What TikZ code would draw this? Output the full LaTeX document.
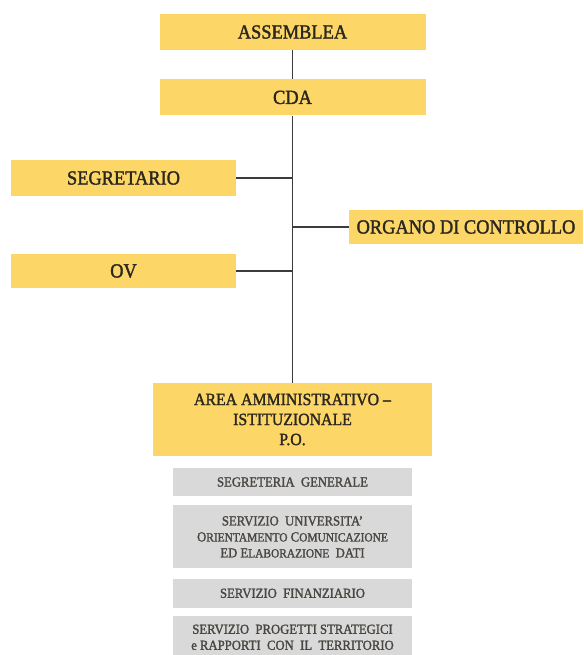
\documentclass[tikz,border=0pt]{standalone}
\usepackage{fontspec}
\setmainfont{Liberation Serif}[FakeStretch=0.92, FakeBold=1.6]
\usepackage{tikz}
\usetikzlibrary{positioning}
\definecolor{orgyellow}{HTML}{FCD667}
\definecolor{orggrey}{HTML}{D9D9D9}
\definecolor{orgtext}{HTML}{2A2620}
\definecolor{orgline}{HTML}{3C3C3C}
\tikzset{yellowbox/.style={fill=orgyellow, text=orgtext, inner sep=0pt, align=center, font=\fontsize{20}{24}\selectfont},
         greybox/.style={fill=orggrey, text=orgtext!85, inner sep=0pt, minimum width=239pt, align=center, font=\fontsize{13.8}{16}\selectfont},
         orgline/.style={draw=orgline, line width=1.1pt},}
\newcommand{\smc}[1]{{\fontsize{12.4}{16}\selectfont #1}}

\begin{document}
\begin{tikzpicture}[x=1pt, y=-1pt]
\useasboundingbox[fill=white] (0,0) rectangle (583,655);
\node [yellowbox, minimum width=266pt, minimum height=36pt] (assemblea) at (292.5,32) {ASSEMBLEA};
\node [yellowbox, minimum width=266pt, minimum height=36pt] (cda) [below=29pt of assemblea] {CDA};
\node [yellowbox, minimum width=225pt, minimum height=36pt] (segretario) at (123.5,178) {SEGRETARIO};
\node [yellowbox, minimum width=234pt, minimum height=34pt] (organo) at (466,227) {ORGANO DI CONTROLLO};
\node [yellowbox, minimum width=225pt, minimum height=34pt] (ov) at (123.5,271) {OV};
\node [yellowbox, minimum width=279pt, minimum height=73pt, font=\fontsize{17.2}{20}\selectfont] (area) at (292.5,419.5) {AREA AMMINISTRATIVO --\\ ISTITUZIONALE\\ P.O.};
\node [greybox, minimum height=28pt] (segreteria) at (292.5,482) {SEGRETERIA~~GENERALE};
\node [greybox, minimum height=63pt] (universita) [below=9pt of segreteria] {SERVIZIO~~UNIVERSITA'\\ O\smc{RIENTAMENTO} C\smc{OMUNICAZIONE}\\ ED E\smc{LABORAZIONE}~~DATI};
\node [greybox, minimum height=29pt] (finanziario) [below=10pt of universita] {SERVIZIO~~FINANZIARIO};
\node [greybox, minimum height=50pt, text depth=8pt] (progetti) [below=8pt of finanziario] {SERVIZIO~~PROGETTI STRATEGICI\\ e RAPPORTI~~CON~~IL~~TERRITORIO};
\draw[orgline] (assemblea) -- (cda);
\draw[orgline] (cda) -- (cda |- area.north);
\draw[orgline] (segretario) -- (segretario -| cda);
\draw[orgline] (organo) -- (organo -| cda);
\draw[orgline] (ov) -- (ov -| cda);
\end{tikzpicture}
\end{document}
